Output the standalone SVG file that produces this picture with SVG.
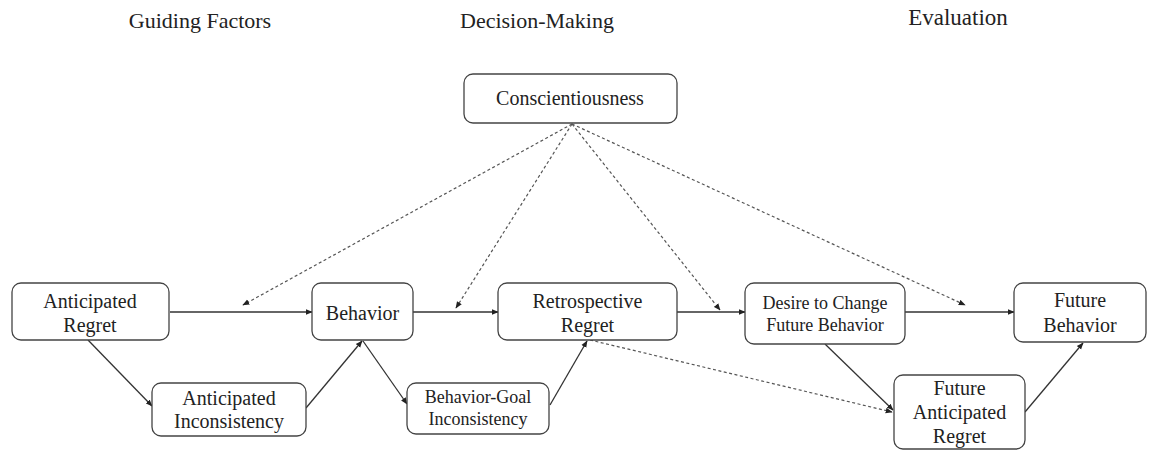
<svg xmlns="http://www.w3.org/2000/svg" width="1157" height="451" viewBox="0 0 1157 451" font-family="'Liberation Serif', 'DejaVu Serif', serif">
<defs>
<marker id="a" viewBox="0 0 10 10" refX="9" refY="5" markerWidth="7" markerHeight="7" markerUnits="userSpaceOnUse" orient="auto"><path d="M0,1 L10,5 L0,9z" fill="#222"/></marker>
</defs>
<style>
.node rect{fill:#fff;stroke:#444;stroke-width:1.3}
text{font-family:'Liberation Serif','DejaVu Serif',serif;fill:#222;text-anchor:middle}
.t{font-size:20px}
.s{font-size:18px}
.h{font-size:22px}
.solid{stroke:#333;stroke-width:1.3;fill:none;marker-end:url(#a)}
.dash{stroke:#555;stroke-width:1.2;stroke-dasharray:3 2.5;fill:none;marker-end:url(#a)}
</style>
<rect width="1157" height="451" fill="#fff"/>
<g id="titles">
<text class="h" x="200" y="28">Guiding Factors</text>
<text class="h" x="537" y="28">Decision-Making</text>
<text class="h" x="958" y="25" style="font-size:23px">Evaluation</text>
</g>
<g id="connectors">
<path class="solid" d="M170,312 H312"/>
<path class="solid" d="M413,312 H498"/>
<path class="solid" d="M677,312 H745"/>
<path class="solid" d="M905,312 H1014"/>
<path class="solid" d="M88,340 L152,406"/>
<path class="solid" d="M306,408 L362,341"/>
<path class="solid" d="M363,341 L407,404"/>
<path class="solid" d="M550,405 L587,341"/>
<path class="solid" d="M825,344 L893,410"/>
<path class="solid" d="M1025,412 L1083,343"/>
<path class="dash" d="M572,124 L243,305"/>
<path class="dash" d="M572,124 L456,308"/>
<path class="dash" d="M572,124 L720,310"/>
<path class="dash" d="M572,124 L965,305"/>
<path class="dash" d="M590,340 L892,412"/>
</g>
<g id="conscientiousness" class="node"><rect x="464" y="74" width="213" height="49" rx="9"/><text class="t" x="570" y="105">Conscientiousness</text></g>
<g id="anticipated-regret" class="node"><rect x="12" y="283" width="157" height="57" rx="9"/><text class="t" x="90" y="308">Anticipated</text><text class="t" x="90" y="332">Regret</text></g>
<g id="behavior" class="node"><rect x="312" y="283" width="101" height="57" rx="9"/><text class="t" x="362.5" y="320">Behavior</text></g>
<g id="retrospective-regret" class="node"><rect x="498" y="283" width="179" height="57" rx="9"/><text class="t" x="587.5" y="308">Retrospective</text><text class="t" x="587.5" y="332">Regret</text></g>
<g id="desire-to-change" class="node"><rect x="745" y="283" width="160" height="61" rx="9"/><text class="s" x="825" y="309">Desire to Change</text><text class="s" x="825" y="331">Future Behavior</text></g>
<g id="future-behavior" class="node"><rect x="1014" y="283" width="132" height="59" rx="9"/><text class="t" x="1080" y="307">Future</text><text class="t" x="1080" y="332">Behavior</text></g>
<g id="anticipated-inconsistency" class="node"><rect x="152" y="383" width="154" height="53" rx="9"/><text class="t" x="229" y="405">Anticipated</text><text class="t" x="229" y="428">Inconsistency</text></g>
<g id="behavior-goal-inconsistency" class="node"><rect x="407" y="383" width="142" height="51" rx="9"/><text class="s" x="478" y="403">Behavior-Goal</text><text class="s" x="478" y="425">Inconsistency</text></g>
<g id="future-anticipated-regret" class="node"><rect x="894" y="375" width="131" height="74" rx="9"/><text class="t" x="959.5" y="395">Future</text><text class="t" x="959.5" y="419">Anticipated</text><text class="t" x="959.5" y="443">Regret</text></g>
</svg>
